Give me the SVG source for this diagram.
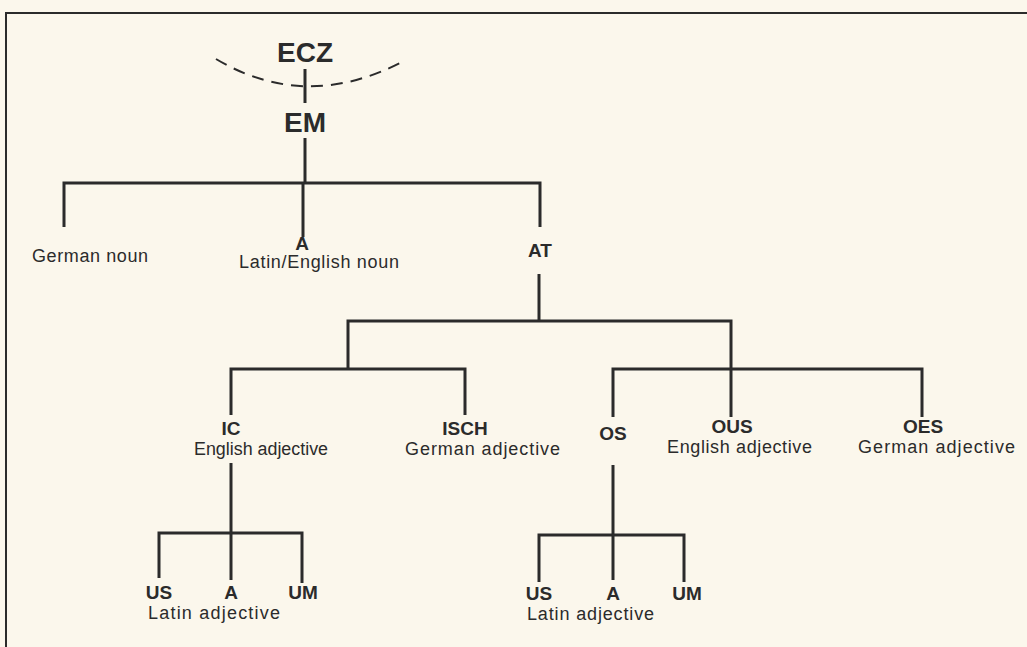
<svg xmlns="http://www.w3.org/2000/svg" width="1027" height="647" viewBox="0 0 1027 647">
<style>
.ln{fill:none;stroke:#2b2b2b;stroke-width:3;stroke-linecap:butt;stroke-linejoin:miter}
.fr{fill:none;stroke:#2b2b2b;stroke-width:2}
.b{font-family:"Liberation Sans",Arial,sans-serif;font-weight:bold;font-size:19px;fill:#2b2b2b;text-anchor:middle}
.big{font-size:28px}
.r{font-family:"Liberation Sans",Arial,sans-serif;font-size:18px;fill:#2b2b2b}
</style>
<rect width="1027" height="647" fill="#fbf7ec"/>
<path class="fr" d="M6,647 V13 H1027"/>
<g id="connectors">
<path d="M216,59 Q305,112 402,62" fill="none" stroke="#2b2b2b" stroke-width="2" stroke-dasharray="12,8"/>
<path class="ln" d="M305,69 V103"/>
<path class="ln" d="M305,138 V183"/>
<path class="ln" d="M64,227 V183 H540 V227"/>
<path class="ln" d="M303,183 V237"/>
<path class="ln" d="M539,274 V321"/>
<path class="ln" d="M348,369 V321 H731 V369"/>
<path class="ln" d="M231,415 V369 H465 V415"/>
<path class="ln" d="M613,417 V369 H922 V417"/>
<path class="ln" d="M731,369 V417"/>
<path class="ln" d="M231,463 V533"/>
<path class="ln" d="M159,578 V533 H302 V583"/>
<path class="ln" d="M231,533 V580"/>
<path class="ln" d="M613,465 V535"/>
<path class="ln" d="M539,582 V535 H684 V582"/>
<path class="ln" d="M613,535 V580"/>
</g>
<g id="ECZ"><text class="b big" x="305" y="62">ECZ</text></g>
<g id="EM"><text class="b big" x="305" y="132">EM</text></g>
<g id="german-noun"><text class="r" x="32" y="262" textLength="116" lengthAdjust="spacing">German  noun</text></g>
<g id="A-noun"><text class="b" x="302" y="250">A</text><text class="r" x="239" y="268" textLength="160" lengthAdjust="spacing">Latin/English noun</text></g>
<g id="AT"><text class="b" x="540" y="257">AT</text></g>
<g id="IC"><text class="b" x="231" y="435">IC</text><text class="r" x="194" y="455" textLength="134" lengthAdjust="spacingAndGlyphs">English adjective</text></g>
<g id="ISCH"><text class="b" x="465" y="435">ISCH</text><text class="r" x="405" y="455" textLength="155" lengthAdjust="spacing">German  adjective</text></g>
<g id="OS"><text class="b" x="613" y="440">OS</text></g>
<g id="OUS"><text class="b" x="732" y="433">OUS</text><text class="r" x="667" y="453" textLength="145" lengthAdjust="spacing">English  adjective</text></g>
<g id="OES"><text class="b" x="923" y="433">OES</text><text class="r" x="858" y="453" textLength="157" lengthAdjust="spacing">German  adjective</text></g>
<g id="IC-latin"><text class="b" x="159" y="599">US</text><text class="b" x="231" y="599">A</text><text class="b" x="303" y="599">UM</text><text class="r" x="148" y="619" textLength="132" lengthAdjust="spacing">Latin  adjective</text></g>
<g id="OS-latin"><text class="b" x="539" y="600">US</text><text class="b" x="613" y="600">A</text><text class="b" x="687" y="600">UM</text><text class="r" x="527" y="620" textLength="127" lengthAdjust="spacing">Latin  adjective</text></g>
</svg>
